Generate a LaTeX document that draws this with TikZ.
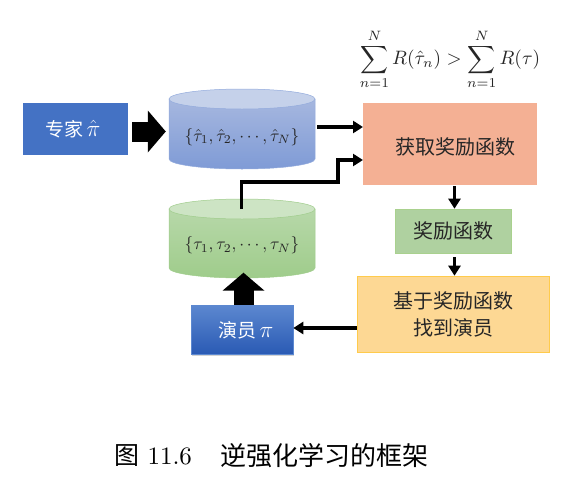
\documentclass[tikz,border=0pt]{standalone}
\usepackage{fontspec}
\newfontfamily\cjk{Noto Sans CJK SC}
\usetikzlibrary{arrows.meta,shadows,calc}
\definecolor{cexpert}{HTML}{4472C4}
\definecolor{corange}{HTML}{F4B094}
\definecolor{cgreen}{HTML}{AFD1A0}
\definecolor{cgreenb}{HTML}{A9D18E}
\definecolor{cyellow}{HTML}{FDD894}
\definecolor{cyellowb}{HTML}{FFCB4C}
\definecolor{cbluetop}{HTML}{C5D1EA}
\definecolor{cbluea}{HTML}{A6B7DF}
\definecolor{cblueb}{HTML}{7F9BD6}
\definecolor{cgreentop}{HTML}{CDE4C4}
\definecolor{cgreena}{HTML}{B7D8A9}
\definecolor{cgreenc}{HTML}{9FCC8B}
\definecolor{cacta}{HTML}{5C88D0}
\definecolor{cactb}{HTML}{2A5AB4}
\definecolor{ctxt}{HTML}{262626}
\newcommand{\mathbig}[2]{\scalebox{#1}{$#2$}}
\tikzset{
  labelfont/.style={font=\cjk\fontsize{20}{27}\selectfont,text=ctxt,align=center},
  whitefont/.style={font=\cjk\fontsize{19}{24}\selectfont,text=white},
  boxnode/.style={inner sep=0pt,line width=0.6pt},
  store/.style={inner sep=0pt,minimum width=146pt,minimum height=80pt,text=ctxt},
  thinarrow/.style={line width=3.5pt,draw=black,-{Triangle[length=10pt,width=12pt]}},
  blockarrow/.style={line width=20pt,draw=black,-{Triangle[length=18pt,width=41pt]}}
}
\begin{document}
\begin{tikzpicture}[x=1pt,y=-1pt]
\useasboundingbox (0,0) rectangle (579,485);
% stores (drawn surfaces)
\path[top color=cbluea,bottom color=cblueb,draw=cblueb!85!white,line width=0.5pt]
  (169,99) -- (169,159) arc[start angle=180,end angle=360,x radius=73pt,y radius=10pt] -- (315,99) -- cycle;
\path[fill=cbluetop,draw=cblueb!85!white,line width=0.5pt] (242,99) ellipse[x radius=73pt,y radius=10pt];
\path[top color=cgreena,bottom color=cgreenc,draw=cgreenc,line width=0.5pt]
  (169,209) -- (169,268) arc[start angle=180,end angle=360,x radius=73pt,y radius=10pt] -- (315,209) -- cycle;
\path[fill=cgreentop,draw=cgreenc,line width=0.5pt] (242,209) ellipse[x radius=73pt,y radius=10pt];
% nodes
\node[boxnode,fill=cexpert,draw=cexpert,minimum width=104pt,minimum height=51pt] (expert) at (75,128.5) {};
\node[whitefont] (expertt) at (73,129) {专家\,\mathbig{1.35}{\hat{\pi}}};
\node[store] (expdata) at (242,129) {\raisebox{-12pt}[0pt][0pt]{\mathbig{1.73}{\{\hat{\tau}_1,\hat{\tau}_2,\cdots,\hat{\tau}_N\}}}};
\node[store] (actdata) at (242,238.5) {\raisebox{-11pt}[0pt][0pt]{\mathbig{1.73}{\{\tau_1,\tau_2,\cdots,\tau_N\}}}};
\node[boxnode,fill=corange,draw=corange,minimum width=173pt,minimum height=81pt] (getr) at (449.5,143.5) {};
\node[labelfont] (getrt) at (455,147) {获取奖励函数};
\node[boxnode,fill=cgreen,draw=cgreenb,minimum width=116pt,minimum height=44pt,labelfont] (rew) at (453,231) {奖励函数};
\node[boxnode,fill=cyellow,draw=cyellowb,minimum width=192pt,minimum height=76pt,labelfont] (find) at (453,314) {基于奖励函数\\找到演员};
\node[boxnode,top color=cacta,bottom color=cactb,draw=cacta,minimum width=102pt,minimum height=49pt,
  drop shadow={shadow xshift=0.5pt,shadow yshift=-1.5pt,opacity=.35}] (actor) at (242,329.5) {};
\node[whitefont] (actort) at (246,330) {演员\,\mathbig{1.35}{\pi}};
\node[text=ctxt] (formula) at (450,59) {\mathbig{1.94}{\displaystyle\sum_{n=1}^{N} R(\hat{\tau}_n) > \sum_{n=1}^{N} R(\tau)}};
\node[anchor=west,inner sep=0pt] (cap) at (114,456) {\scalebox{2.5}{{\cjk 图} 11.6}};
\node[font=\cjk\fontsize{26}{30}\selectfont,anchor=west,inner sep=0pt,text=black] (capb) at (220,456) {逆强化学习的框架};
% connector anchor points
\coordinate (bigmid) at (150,131.5);
\coordinate (in1) at (363,127);
\coordinate (in2) at (363,160);
\coordinate (bend1) at (338,182);
\coordinate (downx) at (454.5,200);
\coordinate (upx) at (243.5,290);
\coordinate (leftx) at (320,328);
% connectors
\draw[blockarrow,shorten <=5pt,shorten >=3pt] (expert.east |- bigmid) -- (expdata.west |- bigmid);
\draw[thinarrow,shorten <=2pt] (expdata.east |- in1) -- (in1);
\draw[thinarrow,line join=miter] (241.5,209) |- (bend1) |- (in2);
\draw[thinarrow,shorten <=2pt] (getr.south -| downx) -- (rew.north -| downx);
\draw[thinarrow,shorten <=4pt] (rew.south -| downx) -- (find.north -| downx);
\draw[thinarrow] (find.west |- leftx) -- (actor.east |- leftx);
\draw[blockarrow,shorten >=-6pt] (actor.north -| upx) -- (actdata.south -| upx);
\end{tikzpicture}
\end{document}
